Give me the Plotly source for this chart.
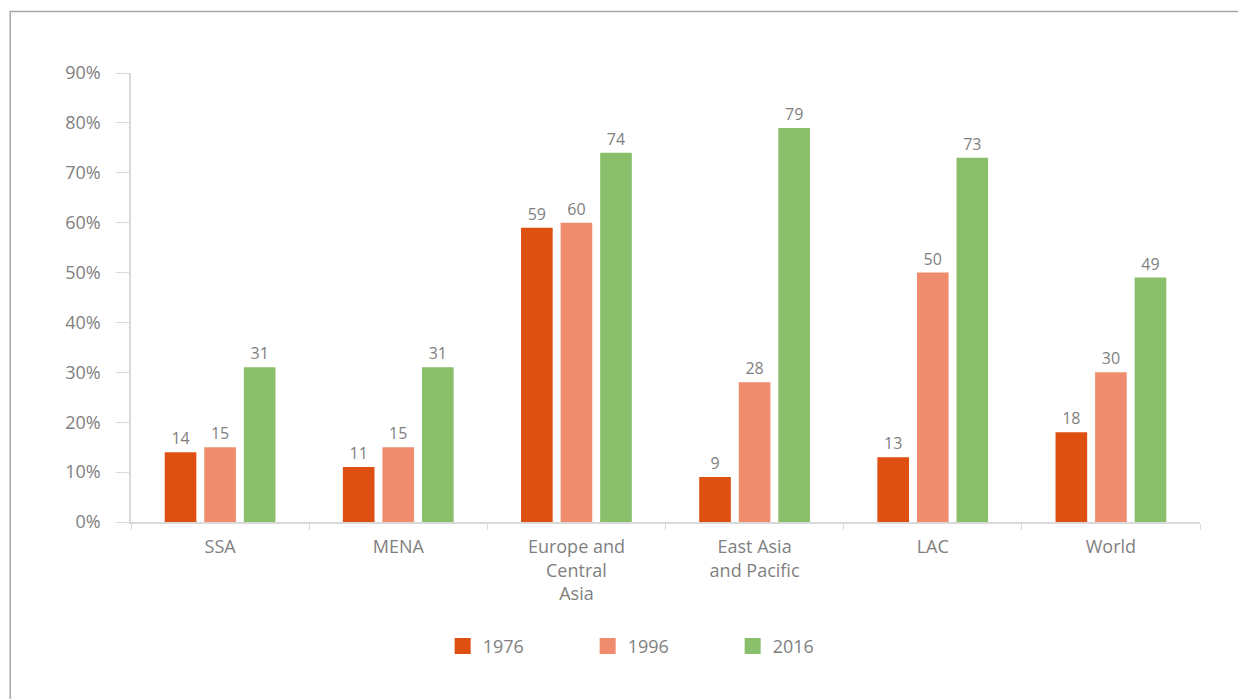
import plotly.graph_objects as go

regions = ["SSA", "MENA", "Europe and<br>Central<br>Asia", "East Asia<br>and Pacific", "LAC", "World"]
years = ["1976", "1996", "2016"]
values_1976 = [14, 11, 59, 9, 13, 18]
values_1996 = [15, 15, 60, 28, 50, 30]
values_2016 = [31, 31, 74, 79, 73, 49]
colors = ["#DE5012", "#F08C6E", "#89BE6B"]

GREY = "#7f7f7f"
FONT = "Open Sans, Liberation Sans, sans-serif"

fig = go.Figure()
for name, vals, col in zip(years, [values_1976, values_1996, values_2016], colors):
    fig.add_trace(go.Bar(
        x=regions, y=[v / 100 for v in vals], name=name, legendgroup=name,
        showlegend=False,
        marker=dict(color=col, line=dict(width=0)),
        text=[str(v) for v in vals], textposition="outside",
        textfont=dict(size=16, color=GREY), cliponaxis=False,
    ))
# legend entries with larger square swatches
for name, col in zip(years, colors):
    fig.add_trace(go.Scatter(
        x=[None], y=[None], mode="markers", name=name, legendgroup=name,
        marker=dict(symbol="square", size=20, color=col),
    ))

fig.add_shape(type="rect", xref="paper", yref="paper",
              x0=-0.113, x1=1.2, y0=-0.6, y1=1.137,
              line=dict(color="#a6a6a6", width=1.5), layer="below")

fig.update_layout(
    width=1238, height=691,
    margin=dict(l=123, r=46, t=65, b=177),
    paper_bgcolor="white", plot_bgcolor="white",
    barmode="group", bargap=0.334, bargroupgap=0.2,
    font=dict(family=FONT, color=GREY, size=18),
    showlegend=True,
    legend=dict(orientation="h", x=0.495, xanchor="center", y=-0.277, yanchor="middle",
                font=dict(size=18, color=GREY), itemwidth=30, itemsizing="trace",
                entrywidth=100),
    xaxis=dict(showline=True, linecolor="#d9d9d9", linewidth=1.5,
               ticks="outside", tickson="boundaries", ticklen=6, tickcolor="#d9d9d9",
               tickfont=dict(size=18, color=GREY), showgrid=False,
               ticklabelstandoff=8),
    yaxis=dict(range=[0, 0.9], dtick=0.1, tickformat=".0%",
               showline=True, linecolor="#d9d9d9", linewidth=1.5,
               ticks="outside", ticklen=13, tickcolor="#d9d9d9",
               tickfont=dict(size=18, color=GREY), showgrid=False, zeroline=False,
               ticklabelstandoff=12),
)

fig.write_html("out.html")
